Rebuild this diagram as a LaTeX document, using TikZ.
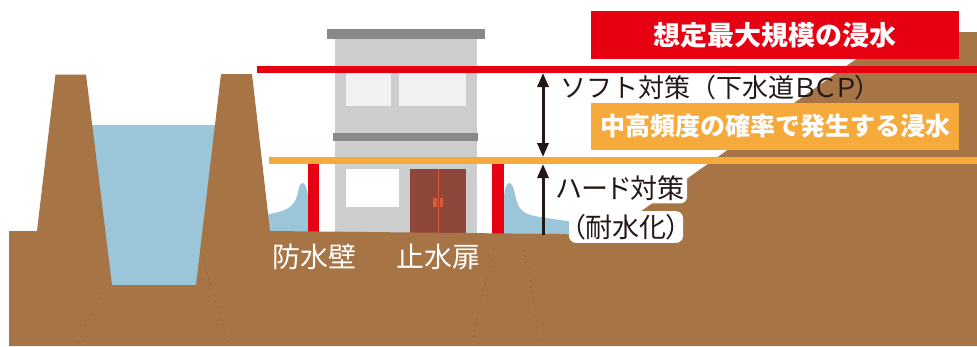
\documentclass[tikz,border=0pt]{standalone}
\usepackage{fontspec}
\setmainfont{Noto Sans CJK JP}
\usetikzlibrary{arrows.meta}
\definecolor{groundbrown}{RGB}{167,116,69}
\definecolor{dotbrown}{RGB}{118,72,38}
\definecolor{waterblue}{RGB}{155,197,216}
\definecolor{floodred}{RGB}{230,0,18}
\definecolor{freqorange}{RGB}{245,170,59}
\definecolor{wallgray}{RGB}{204,205,205}
\definecolor{roofgray}{RGB}{137,137,137}
\definecolor{windowgray}{RGB}{240,241,241}
\definecolor{doorbrown}{RGB}{142,71,58}
\definecolor{doorline}{RGB}{214,92,58}
\definecolor{arrowblack}{RGB}{35,24,21}
\newcommand{\tightwidth}{\addfontfeatures{CharacterWidth=AlternateProportional}}

\begin{document}
\begin{tikzpicture}[x=1pt, y=-1pt,
    levelbar/.style={inner sep=0pt, text=white, font=\fontsize{27}{30}\selectfont\bfseries, minimum width=368pt},
    blacklabel/.style={inner sep=0pt, text=arrowblack, font=\fontsize{26}{30}\selectfont},
    halolabel/.style={blacklabel, font=\fontsize{27}{30}\selectfont\tightwidth, fill=white, inner sep=3pt, rounded corners=7pt},
    whitelabel/.style={inner sep=0pt, text=white, font=\fontsize{28}{30}\selectfont},
    levelarrow/.style={draw=arrowblack, line width=3pt},
    soildots/.style={draw=dotbrown, line width=0.9pt, line cap=round, dash pattern=on 0.01pt off 6pt}
]
\useasboundingbox (0,0) rectangle (977,346);

% water in the river channel
\fill[waterblue] (90,125) rectangle (216,290);
% water pushing against the flood walls
\fill[waterblue] (262,215) .. controls (284,212) and (295,209) .. (298,192) .. controls (300,179) and (306,180) .. (308,196) -- (308,238) -- (262,238) -- cycle;
\fill[waterblue] (504,196) .. controls (506,179) and (512,179) .. (515,194) .. controls (518,210) and (522,214) .. (540,217) -- (580,223) -- (580,238) -- (504,238) -- cycle;

% house
\fill[roofgray] (327,29) rectangle (485,39);
\fill[wallgray] (335,39) rectangle (477,238);
\fill[roofgray] (333,133) rectangle (478,141);
\fill[windowgray] (346,70) rectangle (391,106);
\fill[windowgray] (399,70) rectangle (466,106);
\fill[white] (346,169) rectangle (399,207);
\fill[doorbrown] (410,169) rectangle (466,238);
\draw[doorline, line width=1pt] (438,169) -- (438,236);
\fill[doorline] (433,198) rectangle (436.5,207);
\fill[doorline] (439.5,198) rectangle (443,207);

% flood walls
\fill[floodred] (308,164) rectangle (319,238);
\fill[floodred] (492,164) rectangle (504,238);

% ground, levees and hillside
\fill[groundbrown] (9,346) -- (9,231) -- (37,231) -- (55.5,74.5) -- (86,74.5) -- (112,285) -- (196,285)
  -- (221,74) -- (252,74) -- (270,231) -- (560,234) -- (606,236) -- (852,62)
  .. controls (895,32) and (935,32) .. (977,32) -- (977,346) -- cycle;
\draw[soildots] (105,288) .. controls (95,305) and (86,322) .. (78,343);
\draw[soildots] (204,261) .. controls (212,290) and (220,315) .. (228,343);
\draw[soildots] (496,243) .. controls (488,275) and (478,305) .. (473,340);
\draw[soildots] (523,245) .. controls (530,275) and (536,310) .. (538,340);

% flood levels
\fill[floodred] (257,66) rectangle (977,73);
\fill[freqorange] (269,157) rectangle (977,164);

\node[levelbar, fill=floodred, minimum height=48pt] (maxflood) at (775,35) {想定最大規模の浸水};
\node[levelbar, fill=freqorange, minimum height=47pt, font=\fontsize{25}{30}\selectfont\bfseries] (freqflood) at (775,126.5) {中高頻度の確率で発生する浸水};

% measures between the levels
\coordinate (maxlevel) at (543,73);
\coordinate (freqtop) at (543,157);
\coordinate (freqbottom) at (543,164);
\coordinate (groundlevel) at (543,235);
\draw[levelarrow, {Triangle[length=14pt,width=11pt]}-{Triangle[length=14pt,width=11pt]}] (freqtop) -- (maxlevel);
\draw[levelarrow, -{Triangle[length=14pt,width=11pt]}] (groundlevel) -- (freqbottom);

\node[blacklabel, anchor=west] (softlabel) at (560,88) {ソフト対策（下水道{\tightwidth ＢＣＰ）}};
\node[halolabel, anchor=west] (hardlabel) at (553,188) {ハード対策};
\node[halolabel] (hardsub) at (626,227) {（耐水化）};

\node[whitelabel] (wallname) at (314,257) {防水壁};
\node[whitelabel] (doorname) at (438,257) {止水扉};
\end{tikzpicture}
\end{document}
